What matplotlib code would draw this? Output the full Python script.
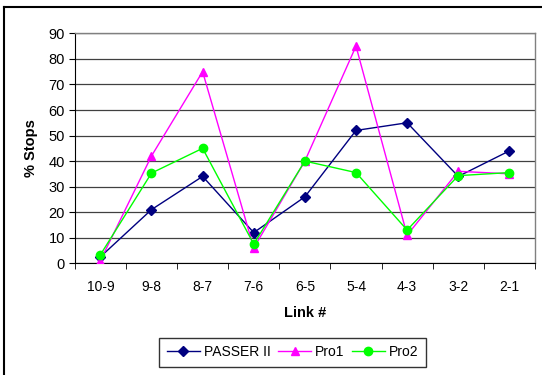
import matplotlib
matplotlib.use("Agg")
import matplotlib.pyplot as plt
from matplotlib.lines import Line2D

plt.rcParams['font.family'] = ['Liberation Sans', 'DejaVu Sans']

links = ['10-9', '9-8', '8-7', '7-6', '6-5', '5-4', '4-3', '3-2', '2-1']
passer = [2.5, 21, 34, 12, 26, 52, 55, 34, 44]
pro1 = [1, 42, 75, 6, 40, 85, 11, 36, 35]
pro2 = [3.3, 35.3, 45, 7.5, 40, 35.5, 13, 34.3, 35.5]


def main():
    fig = plt.figure(figsize=(5.42, 3.75), dpi=100)
    ax = fig.add_axes([0.138, 0.298, 0.849, 0.613])

    x = list(range(len(links)))
    ax.plot(x, passer, color='#000080', marker='D', markersize=5, lw=1, label='PASSER II', zorder=3)
    ax.plot(x, pro1, color='#FF00FF', marker='^', markersize=6, lw=1, label='Pro1', zorder=3)
    ax.plot(x, pro2, color='#00FF00', marker='o', markersize=6, lw=1, label='Pro2', zorder=4)

    ax.set_xlim(-0.5, len(links) - 0.5)
    ax.set_ylim(0, 90)
    ax.set_yticks(range(0, 91, 10))
    ax.set_xticks(x)
    ax.set_xticklabels(links)
    ax.set_xticks([i - 0.5 for i in range(len(links) + 1)], minor=True)
    ax.tick_params(axis='x', which='major', length=0, pad=12, labelsize=10)
    ax.tick_params(axis='x', which='minor', length=4, direction='out', color='black')
    ax.tick_params(axis='y', length=4, direction='out', labelsize=10.5, pad=3)

    ax.yaxis.grid(True, color='#404040', lw=0.9)
    ax.set_axisbelow(True)
    for side in ['top', 'right']:
        ax.spines[side].set_color('#808080')
        ax.spines[side].set_linewidth(1)
    ax.spines['left'].set_color('black')
    ax.spines['bottom'].set_color('black')

    ax.set_xlabel('Link #', fontweight='bold', fontsize=10.5, labelpad=9)
    ax.set_ylabel('% Stops', fontweight='bold', fontsize=10.5, labelpad=8)

    fig.legend(loc='lower center', bbox_to_anchor=(0.54, 0.003), ncol=3, fontsize=10,
               frameon=True, fancybox=False, edgecolor='black', handlelength=2.4,
               handletextpad=0.3, columnspacing=0.5, borderpad=0.55)

    # outer chart frame (left and top edges visible)
    fig.add_artist(Line2D([0.007, 0.007], [0.0, 0.981], color='black', lw=1.5, transform=fig.transFigure))
    fig.add_artist(Line2D([0.007, 1.0], [0.981, 0.981], color='black', lw=1.5, transform=fig.transFigure))

    fig.savefig('out.png', dpi=100)


if __name__ == '__main__':
    main()
